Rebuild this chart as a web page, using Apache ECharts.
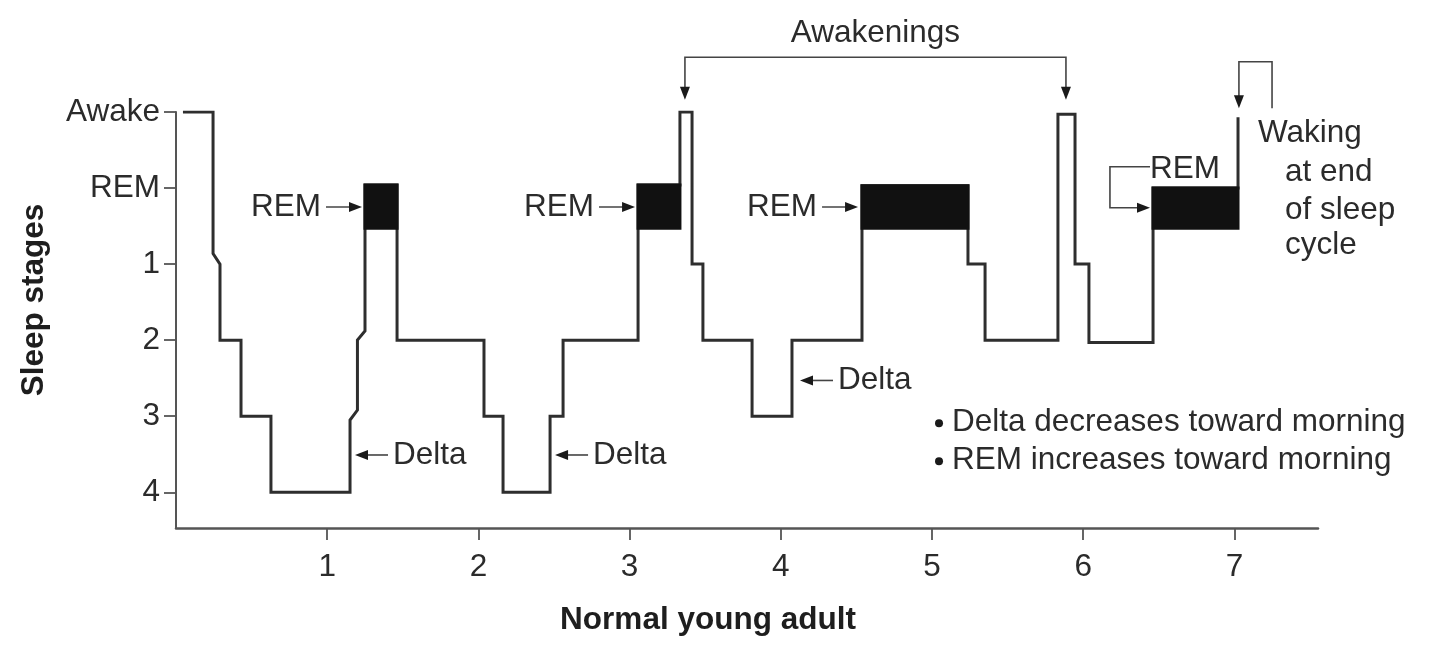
<!DOCTYPE html>
<html>
<head>
<meta charset="utf-8">
<script src="https://cdn.jsdelivr.net/npm/echarts@6/dist/echarts.min.js"></script>
<style>
html,body{margin:0;padding:0;background:#fff;}
#chart{width:1440px;height:653px;}
</style>
</head>
<body>
<div id="chart"></div>
<script>
// ---- data ----
const stageLabels = ['Awake', 'REM', '1', '2', '3', '4'];
const hourTicks = [1, 2, 3, 4, 5, 6, 7];
// hypnogram corner points: time (h) and stage index (0 = Awake ... 5 = stage 4)
const hypnoTime = [0.046, 0.245, 0.245, 0.291, 0.291, 0.43, 0.43, 0.628, 0.628, 1.151, 1.151, 1.20, 1.20, 1.25, 1.25, 1.462, 1.462,
  2.037, 2.037, 2.163, 2.163, 2.474, 2.474, 2.56, 2.56, 3.056, 3.056, 3.333, 3.333, 3.413, 3.413, 3.485, 3.485,
  3.81, 3.81, 4.074, 4.074, 4.537, 4.537, 5.238, 5.238, 5.351, 5.351, 5.833, 5.833, 5.946, 5.946, 6.038, 6.038,
  6.462, 6.462, 7.024, 7.024];
const hypnoStage = [0, 0, 1.86, 2, 3, 3, 4, 4, 5, 5, 4.05, 3.92, 3, 2.88, 0.96, 0.96, 3,
  3, 4, 4, 5, 5, 4, 4, 3, 3, 0.96, 0.96, 0, 0, 2, 2, 3,
  3, 4, 4, 3, 3, 0.97, 0.97, 2, 2, 3, 3, 0.03, 0.03, 2, 2, 3.03,
  3.03, 1.0, 1.0, 0.07];
// REM periods: [start h, end h, top stage]
const remBlocks = [[1.25, 1.462, 0.96], [3.056, 3.333, 0.96], [4.537, 5.238, 0.97], [6.462, 7.024, 1.0]];
const remBottom = 1.53;
// annotation anchors (time h, stage)
const remArrowTips = [[1.230, 1.25], [3.036, 1.25], [4.511, 1.25]];
const deltaArrowTips = [[1.184, 4.51], [2.507, 4.51], [4.127, 3.53]];
const awakeningTips = [3.366, 5.886];
const awakeningBar = -0.72, awakeningTipStage = -0.16, awakeningTextStage = -1.04;
const lastRemLabel = [6.442, 0.76];
const lastRemBracket = [[6.442, 0.72], [6.177, 0.72], [6.177, 1.26], [6.442, 1.26]];
const wakingBracket = [[7.249, -0.05], [7.249, -0.66], [7.03, -0.66], [7.03, -0.05]];
const wakingText = ['Waking', 'at end', 'of sleep', 'cycle'];
const wakingTextPos = [[7.156, 0.28], [7.335, 0.79], [7.335, 1.29], [7.335, 1.75]];
const notes = ['Delta decreases toward morning', 'REM increases toward morning'];
const notePos = [[5.02, 4.08], [5.02, 4.58]];

const FONT = '"Liberation Sans", Arial, Helvetica, sans-serif';
const FS = 31.5;
const TXT = '#2b2b2b';
const LINE = '#2e2e2e';

function text(x, y, str, align) {
  return {
    type: 'text', x: x, y: y,
    style: { text: str, fill: TXT, fontSize: FS, fontFamily: FONT, align: align || 'left', verticalAlign: 'middle' }
  };
}
function arrowHead(tip, dir) { // dir: 'right','left','down'
  const L = 13, W = 5;
  let pts;
  if (dir === 'right') pts = [[tip[0], tip[1]], [tip[0] - L, tip[1] - W], [tip[0] - L, tip[1] + W]];
  else if (dir === 'left') pts = [[tip[0], tip[1]], [tip[0] + L, tip[1] - W], [tip[0] + L, tip[1] + W]];
  else pts = [[tip[0], tip[1]], [tip[0] - W, tip[1] - L], [tip[0] + W, tip[1] - L]];
  return { type: 'polygon', shape: { points: pts }, style: { fill: '#1a1a1a' } };
}
function poly(points, w) {
  return { type: 'polyline', shape: { points: points }, style: { stroke: '#444', lineWidth: w || 1.6, fill: null } };
}

function renderAnnotations(params, api) {
  const ch = [];
  const c = p => api.coord(p);
  remArrowTips.forEach(t => {
    const tip = c(t);
    ch.push(poly([[tip[0] - 36, tip[1]], [tip[0] - 4, tip[1]]]));
    ch.push(arrowHead(tip, 'right'));
    ch.push(text(tip[0] - 41, tip[1], 'REM', 'right'));
  });
  deltaArrowTips.forEach(t => {
    const tip = c(t);
    ch.push(poly([[tip[0] + 4, tip[1]], [tip[0] + 33, tip[1]]]));
    ch.push(arrowHead(tip, 'left'));
    ch.push(text(tip[0] + 38, tip[1], 'Delta', 'left'));
  });
  const a0 = c([awakeningTips[0], awakeningBar]);
  const a1 = c([awakeningTips[1], awakeningBar]);
  const t0 = c([awakeningTips[0], awakeningTipStage]);
  const t1 = c([awakeningTips[1], awakeningTipStage]);
  ch.push(poly([[t0[0], t0[1] - 6], a0, a1, [t1[0], t1[1] - 6]]));
  ch.push(arrowHead(t0, 'down'));
  ch.push(arrowHead(t1, 'down'));
  const at = c([(awakeningTips[0] + awakeningTips[1]) / 2, awakeningTextStage]);
  ch.push(text(at[0], at[1], 'Awakenings', 'center'));
  const lb = lastRemBracket.map(c);
  ch.push(poly([lb[0], lb[1], lb[2], [lb[3][0] - 4, lb[3][1]]]));
  ch.push(arrowHead(lb[3], 'right'));
  const lr = c(lastRemLabel);
  ch.push(text(lr[0], lr[1], 'REM', 'left'));
  const wb = wakingBracket.map(c);
  ch.push(poly([wb[0], wb[1], wb[2], [wb[3][0], wb[3][1] - 6]]));
  ch.push(arrowHead(wb[3], 'down'));
  wakingText.forEach((s, i) => {
    const p = c(wakingTextPos[i]);
    ch.push(text(p[0], p[1], s, 'left'));
  });
  notes.forEach((s, i) => {
    const p = c(notePos[i]);
    ch.push({ type: 'circle', shape: { cx: p[0] + 4, cy: p[1] + 1, r: 4 }, style: { fill: '#1a1a1a' } });
    ch.push(text(p[0] + 17, p[1], s, 'left'));
  });
  return { type: 'group', children: ch };
}

const chart = echarts.init(document.getElementById('chart'), null, { renderer: 'canvas' });
chart.setOption({
  backgroundColor: '#fff',
  animation: false,
  grid: { left: 176, right: 122, top: 112, bottom: 125, containLabel: false },
  xAxis: {
    type: 'value', min: 0, max: 7.553, interval: 1, position: 'bottom',
    splitLine: { show: false },
    axisLine: { show: true, onZero: false, lineStyle: { color: '#555', width: 2.5 } },
    axisTick: { show: true, length: 12, customValues: hourTicks, lineStyle: { color: '#555', width: 1.8 } },
    axisLabel: { customValues: hourTicks, margin: 23, color: TXT, fontSize: FS, fontFamily: FONT },
    name: 'Normal young adult', nameLocation: 'middle', nameGap: 76,
    nameTextStyle: { color: '#1e1e1e', fontSize: FS, fontWeight: 'bold', fontFamily: FONT, padding: [0, 78, 0, 0] }
  },
  yAxis: {
    type: 'value', inverse: true, min: 0, max: 5.47,
    splitLine: { show: false },
    axisLine: { show: true, onZero: false, lineStyle: { color: '#555', width: 2 } },
    axisTick: { show: true, length: 12, customValues: [0, 1, 2, 3, 4, 5], lineStyle: { color: '#555', width: 1.8 } },
    axisLabel: { customValues: [0, 1, 2, 3, 4, 5], margin: 16, color: TXT, fontSize: FS, fontFamily: FONT,
      formatter: v => stageLabels[Math.round(v)] },
    name: 'Sleep stages', nameLocation: 'middle', nameGap: 126, nameRotate: 90,
    nameTextStyle: { color: '#1e1e1e', fontSize: FS, fontWeight: 'bold', fontFamily: FONT, padding: [0, 0, 0, 40] }
  },
  series: [
    {
      type: 'line', name: 'Hypnogram',
      data: hypnoTime.map((t, i) => [t, hypnoStage[i]]),
      showSymbol: false, symbol: 'none',
      lineStyle: { color: LINE, width: 3, join: 'miter' },
      z: 2
    },
    {
      type: 'custom', name: 'REM',
      data: remBlocks,
      clip: false,
      renderItem: (params, api) => {
        const p0 = api.coord([api.value(0), api.value(2)]);
        const p1 = api.coord([api.value(1), remBottom]);
        return { type: 'rect', shape: { x: p0[0] - 1.5, y: p0[1] - 1.5, width: p1[0] - p0[0] + 3, height: p1[1] - p0[1] + 3 },
          style: { fill: '#111' } };
      },
      z: 3
    },
    {
      type: 'custom', name: 'Annotations',
      data: [[1, 1]],
      clip: false,
      renderItem: renderAnnotations,
      z: 4
    }
  ]
});
</script>
</body>
</html>
